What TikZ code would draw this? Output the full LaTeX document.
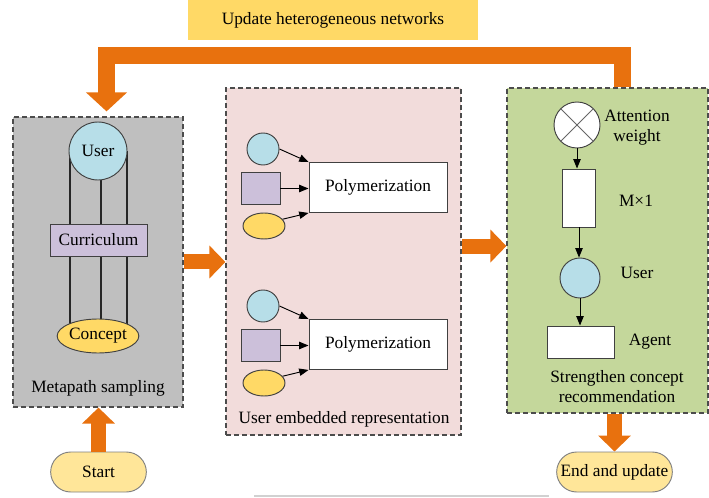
\documentclass[tikz,border=0pt]{standalone}
\usepackage{fontspec}
\setmainfont{Liberation Serif}
\usepackage{tikz}
\usetikzlibrary{arrows.meta, positioning, shapes.geometric, shapes.misc}
\definecolor{fbOrange}{RGB}{232,113,14}
\definecolor{hdYellow}{RGB}{255,217,102}
\definecolor{termYellow}{RGB}{255,230,153}
\definecolor{panGray}{RGB}{191,191,191}
\definecolor{panPink}{RGB}{242,220,219}
\definecolor{panGreen}{RGB}{196,215,155}
\definecolor{nodeBlue}{RGB}{183,222,232}
\definecolor{nodeLilac}{RGB}{204,192,218}

\tikzset{
  panel/.style={draw=black!70, line width=0.9pt, dash pattern=on 3.5pt off 2.5pt, inner sep=0pt},
  fatarrow/.style={fbOrange, line width=11.25pt, -{Triangle[length=12pt, width=24pt]}},
  thinarrow/.style={-{Triangle[length=7pt, width=5.5pt]}, line width=0.7pt},
  shp/.style={draw=black!75, line width=0.7pt, inner sep=0pt},
  term/.style={rounded rectangle, draw=black!50, fill=termYellow, line width=0.7pt, minimum height=30pt, inner sep=2pt}
}

\begin{document}
\begin{tikzpicture}[x=0.75pt, y=-0.75pt, >=Stealth, every node/.style={font=\fontsize{13}{15}\selectfont}]

\useasboundingbox (0,0) rectangle (709,498);

% title bar
\node[fill=hdYellow, minimum width=217.5pt, minimum height=30pt] (upd) at (333,20) {Update heterogeneous networks};

% three panels
\node[panel, fill=panGray, minimum width=127.5pt, minimum height=217.5pt] (meta) at (98,262) {};
\node[panel, fill=panPink, minimum width=176.25pt, minimum height=260.25pt] (embed) at (343.5,261.5) {};
\node[panel, fill=panGreen, minimum width=150.75pt, minimum height=243.75pt] (recom) at (607.5,250.5) {};

% metapath sampling
\coordinate (mu) at (98,151);
\coordinate (mc) at (98,336);
\foreach \dx in {-21,2.25,21.75}
  \draw[line width=1pt, black!85] ([xshift=\dx pt]mu) -- ([xshift=\dx pt]mc);
\node[shp, circle, fill=nodeBlue, minimum size=43.5pt] (muser) at (mu) {User};
\node[shp, fill=nodeLilac, minimum width=72.75pt, minimum height=24pt] (curr) at (98.5,240) {Curriculum};
\node[shp, ellipse, fill=hdYellow, minimum width=60pt, minimum height=25.5pt] (conc) at (mc) {Concept};
\node (metalbl) at (98,388) {Metapath sampling};

% user embedded representation
\foreach \i/\y in {1/149, 2/306} {
  \node[shp, circle, fill=nodeBlue, minimum size=24pt] (c\i) at (263,\y) {};
  \node[shp, fill=nodeLilac, minimum width=29.25pt, minimum height=24pt] (s\i) at (260.5,\y+39.5) {};
  \node[shp, ellipse, fill=hdYellow, minimum width=31.5pt, minimum height=19.5pt] (e\i) at (264,\y+77) {};
  \node[shp, fill=white, minimum width=103.5pt, minimum height=37.5pt] (poly\i) at (378,\y+38.5) {Polymerization};
  \draw[thinarrow] (c\i.east) -- (poly\i.north west);
  \draw[thinarrow] (s\i.east) -- (s\i.east -| poly\i.west);
  \draw[thinarrow] (e\i.20) -- (poly\i.south west);
}
\node (embedlbl) at (344,419) {User embedded representation};

% strengthen concept recommendation
\node[shp, circle, fill=white, minimum size=34.5pt] (att) at (577,125) {};
\draw[black!60, line width=0.6pt] (att.45) -- (att.225) (att.135) -- (att.315);
\node[align=center] (attlbl) at (637,128) {Attention\\weight};
\node[shp, fill=white, minimum width=24.75pt, minimum height=43.5pt] (col) at (579,198) {};
\node (collbl) at (636,201) {M×1};
\node[shp, circle, fill=nodeBlue, minimum size=30pt] (ruser) at (580,278) {};
\node (ruserlbl) at (637,273) {User};
\node[shp, fill=white, minimum width=50.25pt, minimum height=24pt] (agent) at (580.5,342) {};
\node (agentlbl) at (650,342) {Agent};
\node[align=center] (recomlbl) at (617,387) {Strengthen concept\\recommendation};
\draw[thinarrow] (att.south) -- (att.south |- col.north);
\draw[thinarrow] (col.south) -- (col.south |- ruser.north);
\draw[thinarrow] (ruser.south) -- (ruser.south |- agent.north);

% start / end
\node[term, minimum width=75.75pt] (start) at (98.5,472) {Start};
\node[term, minimum width=90.75pt] (end) at (614.5,472) {End and update};

% big orange arrows
\draw[fatarrow] (start.north) -- (start.north |- meta.south);
\draw[fatarrow] (meta.east) -- (meta.east -| embed.west);
\draw[fatarrow] ([yshift=11.6pt]embed.east) -- ([yshift=11.6pt]embed.east -| recom.west);
\draw[fatarrow] (end.north |- recom.south) -- (end.north);
\draw[fbOrange, line width=12.75pt, -{Triangle[length=14.25pt, width=30pt]}]
  ([xshift=11.25pt]recom.north) -- ++(0,-32) -| ([xshift=6.4pt, yshift=3.75pt]meta.north);

\draw[black!18, line width=0.8pt] (254,496) -- (549,496);

\end{tikzpicture}
\end{document}
